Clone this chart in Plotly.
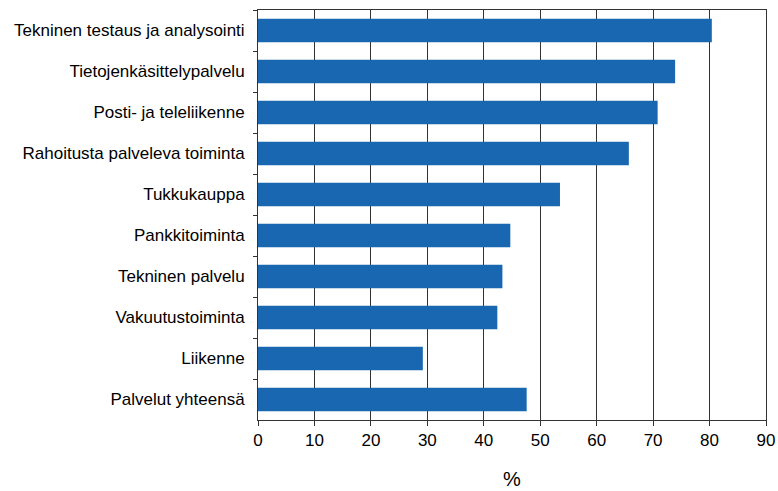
import plotly.graph_objects as go

categories = [
    "Tekninen testaus ja analysointi",
    "Tietojenkäsittelypalvelu",
    "Posti- ja teleliikenne",
    "Rahoitusta palveleva toiminta",
    "Tukkukauppa",
    "Pankkitoiminta",
    "Tekninen palvelu",
    "Vakuutustoiminta",
    "Liikenne",
    "Palvelut yhteensä",
]
values = [80.4, 73.9, 70.8, 65.7, 53.5, 44.7, 43.3, 42.4, 29.2, 47.6]
x_ticks = [0, 10, 20, 30, 40, 50, 60, 70, 80, 90]

fig = go.Figure(go.Bar(
    x=values, y=categories, orientation="h",
    marker=dict(color="#1867b0", line=dict(width=0)),
))

fig.update_layout(
    width=778, height=491,
    margin=dict(l=258, r=12, t=10, b=71, autoexpand=False),
    paper_bgcolor="white", plot_bgcolor="white",
    bargap=0.43,
    showlegend=False,
    font=dict(family="Liberation Sans, Arial, sans-serif", size=17, color="#000000"),
)
fig.update_xaxes(
    range=[0, 90], tickvals=x_ticks, ticktext=[str(t) for t in x_ticks],
    showgrid=True, gridcolor="#333333", gridwidth=1,
    showline=True, linecolor="#333333", linewidth=1, mirror=True,
    ticks="outside", ticklen=5, tickcolor="#333333",
    automargin=False,
    title=dict(text="%", standoff=22), zeroline=False,
)
fig.update_yaxes(
    autorange="reversed", tickson="boundaries",
    showline=True, linecolor="#333333", linewidth=1, mirror=True,
    ticks="outside", ticklen=4, tickcolor="#333333",
    ticklabelstandoff=9, automargin=False,
    showgrid=False,
)

fig.write_html(
    "out.html",
    config={"displayModeBar": False},
    post_script="document.body.style.margin='0';document.body.style.overflow='hidden';",
)
